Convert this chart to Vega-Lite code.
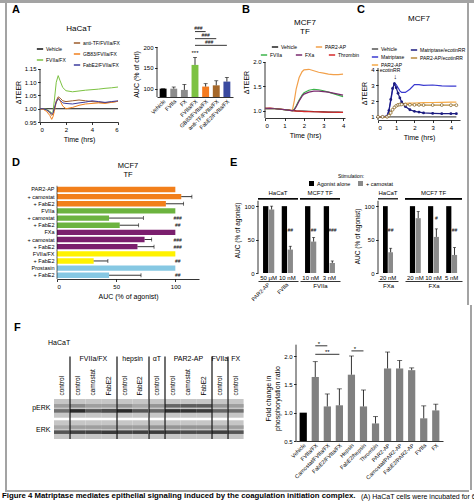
{
  "$schema": "https://vega.github.io/schema/vega-lite/v6.json",
  "background": "white",
  "padding": 0,
  "datasets": {
    "aline": [
      {"s":"Vehicle","t":0,"v":1},{"s":"Vehicle","t":1,"v":1},{"s":"Vehicle","t":2,"v":1},{"s":"Vehicle","t":3,"v":1},{"s":"Vehicle","t":4,"v":1},{"s":"Vehicle","t":5,"v":1},{"s":"Vehicle","t":6,"v":1},
      {"s":"FVIIa/FX","t":0,"v":1.0},{"s":"FVIIa/FX","t":0.25,"v":1.0},{"s":"FVIIa/FX","t":0.5,"v":0.998},{"s":"FVIIa/FX","t":0.75,"v":0.99},{"s":"FVIIa/FX","t":0.9,"v":0.985},{"s":"FVIIa/FX","t":1.0,"v":0.99},{"s":"FVIIa/FX","t":1.1,"v":1.03},{"s":"FVIIa/FX","t":1.25,"v":1.1},{"s":"FVIIa/FX","t":1.4,"v":1.125},{"s":"FVIIa/FX","t":1.55,"v":1.105},{"s":"FVIIa/FX","t":1.75,"v":1.08},{"s":"FVIIa/FX","t":2,"v":1.068},{"s":"FVIIa/FX","t":2.5,"v":1.064},{"s":"FVIIa/FX","t":3,"v":1.067},{"s":"FVIIa/FX","t":3.5,"v":1.07},{"s":"FVIIa/FX","t":4,"v":1.072},{"s":"FVIIa/FX","t":4.5,"v":1.074},{"s":"FVIIa/FX","t":5,"v":1.077},{"s":"FVIIa/FX","t":5.5,"v":1.079},{"s":"FVIIa/FX","t":6,"v":1.082},
      {"s":"anti-TF/FVIIa/FX","t":0,"v":1.0},{"s":"anti-TF/FVIIa/FX","t":0.25,"v":1.0},{"s":"anti-TF/FVIIa/FX","t":0.5,"v":0.995},{"s":"anti-TF/FVIIa/FX","t":0.75,"v":0.985},{"s":"anti-TF/FVIIa/FX","t":0.9,"v":0.975},{"s":"anti-TF/FVIIa/FX","t":1.0,"v":0.98},{"s":"anti-TF/FVIIa/FX","t":1.1,"v":1.0},{"s":"anti-TF/FVIIa/FX","t":1.25,"v":1.03},{"s":"anti-TF/FVIIa/FX","t":1.4,"v":1.045},{"s":"anti-TF/FVIIa/FX","t":1.55,"v":1.04},{"s":"anti-TF/FVIIa/FX","t":1.75,"v":1.03},{"s":"anti-TF/FVIIa/FX","t":2,"v":1.027},{"s":"anti-TF/FVIIa/FX","t":2.5,"v":1.03},{"s":"anti-TF/FVIIa/FX","t":3,"v":1.033},{"s":"anti-TF/FVIIa/FX","t":3.5,"v":1.03},{"s":"anti-TF/FVIIa/FX","t":4,"v":1.027},{"s":"anti-TF/FVIIa/FX","t":4.5,"v":1.025},{"s":"anti-TF/FVIIa/FX","t":5,"v":1.023},{"s":"anti-TF/FVIIa/FX","t":5.5,"v":1.025},{"s":"anti-TF/FVIIa/FX","t":6,"v":1.028},
      {"s":"GB83/FVIIa/FX","t":0,"v":1.0},{"s":"GB83/FVIIa/FX","t":0.25,"v":0.998},{"s":"GB83/FVIIa/FX","t":0.5,"v":0.99},{"s":"GB83/FVIIa/FX","t":0.75,"v":0.975},{"s":"GB83/FVIIa/FX","t":0.9,"v":0.96},{"s":"GB83/FVIIa/FX","t":1.0,"v":0.97},{"s":"GB83/FVIIa/FX","t":1.1,"v":0.99},{"s":"GB83/FVIIa/FX","t":1.25,"v":1.025},{"s":"GB83/FVIIa/FX","t":1.4,"v":1.04},{"s":"GB83/FVIIa/FX","t":1.55,"v":1.03},{"s":"GB83/FVIIa/FX","t":1.75,"v":1.01},{"s":"GB83/FVIIa/FX","t":2,"v":1.0},{"s":"GB83/FVIIa/FX","t":2.5,"v":1.005},{"s":"GB83/FVIIa/FX","t":3,"v":1.013},{"s":"GB83/FVIIa/FX","t":3.5,"v":1.018},{"s":"GB83/FVIIa/FX","t":4,"v":1.02},{"s":"GB83/FVIIa/FX","t":4.5,"v":1.022},{"s":"GB83/FVIIa/FX","t":5,"v":1.02},{"s":"GB83/FVIIa/FX","t":5.5,"v":1.024},{"s":"GB83/FVIIa/FX","t":6,"v":1.028},
      {"s":"FabE2/FVIIa/FX","t":0,"v":1.0},{"s":"FabE2/FVIIa/FX","t":0.25,"v":1.0},{"s":"FabE2/FVIIa/FX","t":0.5,"v":0.996},{"s":"FabE2/FVIIa/FX","t":0.75,"v":0.988},{"s":"FabE2/FVIIa/FX","t":0.9,"v":0.98},{"s":"FabE2/FVIIa/FX","t":1.0,"v":0.985},{"s":"FabE2/FVIIa/FX","t":1.1,"v":1.0},{"s":"FabE2/FVIIa/FX","t":1.25,"v":1.025},{"s":"FabE2/FVIIa/FX","t":1.4,"v":1.038},{"s":"FabE2/FVIIa/FX","t":1.55,"v":1.032},{"s":"FabE2/FVIIa/FX","t":1.75,"v":1.022},{"s":"FabE2/FVIIa/FX","t":2,"v":1.02},{"s":"FabE2/FVIIa/FX","t":2.5,"v":1.018},{"s":"FabE2/FVIIa/FX","t":3,"v":1.022},{"s":"FabE2/FVIIa/FX","t":3.5,"v":1.025},{"s":"FabE2/FVIIa/FX","t":4,"v":1.03},{"s":"FabE2/FVIIa/FX","t":4.5,"v":1.027},{"s":"FabE2/FVIIa/FX","t":5,"v":1.024},{"s":"FabE2/FVIIa/FX","t":5.5,"v":1.027},{"s":"FabE2/FVIIa/FX","t":6,"v":1.03}
    ],
    "abar": [
      {"g":"Vehicle","v":100,"e":100},
      {"g":"FVIIa","v":100,"e":104},
      {"g":"FX","v":97,"e":110},
      {"g":"FVIIa/FX","v":157,"e":175,"sig":"***"},
      {"g":"GB83/FVIIa/FX","v":105,"e":112},
      {"g":"anti-TF/FVIIa/FX","v":108,"e":119},
      {"g":"FabE2/FVIIa/FX","v":117,"e":127}
    ],
    "bline": [
      {"s":"Vehicle","t":0,"v":1.05},{"s":"Vehicle","t":0.25,"v":1.05},{"s":"Vehicle","t":0.5,"v":1.045},{"s":"Vehicle","t":0.75,"v":1.035},{"s":"Vehicle","t":1.0,"v":1.02},{"s":"Vehicle","t":1.25,"v":1.01},{"s":"Vehicle","t":1.4,"v":1.0},{"s":"Vehicle","t":1.5,"v":1.0},{"s":"Vehicle","t":1.6,"v":0.995},{"s":"Vehicle","t":1.75,"v":0.99},{"s":"Vehicle","t":1.9,"v":0.99},{"s":"Vehicle","t":2.0,"v":0.99},{"s":"Vehicle","t":2.25,"v":0.985},{"s":"Vehicle","t":2.5,"v":0.98},{"s":"Vehicle","t":2.75,"v":0.978},{"s":"Vehicle","t":3,"v":0.975},{"s":"Vehicle","t":3.25,"v":0.972},{"s":"Vehicle","t":3.5,"v":0.97},{"s":"Vehicle","t":3.75,"v":0.97},{"s":"Vehicle","t":4,"v":0.968},
      {"s":"Thrombin","t":0,"v":1.05},{"s":"Thrombin","t":0.25,"v":1.052},{"s":"Thrombin","t":0.5,"v":1.045},{"s":"Thrombin","t":0.75,"v":1.035},{"s":"Thrombin","t":1.0,"v":1.025},{"s":"Thrombin","t":1.25,"v":1.01},{"s":"Thrombin","t":1.4,"v":1.0},{"s":"Thrombin","t":1.5,"v":0.995},{"s":"Thrombin","t":1.6,"v":0.99},{"s":"Thrombin","t":1.75,"v":0.99},{"s":"Thrombin","t":1.9,"v":0.985},{"s":"Thrombin","t":2.0,"v":0.982},{"s":"Thrombin","t":2.25,"v":0.98},{"s":"Thrombin","t":2.5,"v":0.978},{"s":"Thrombin","t":2.75,"v":0.975},{"s":"Thrombin","t":3,"v":0.972},{"s":"Thrombin","t":3.25,"v":0.97},{"s":"Thrombin","t":3.5,"v":0.968},{"s":"Thrombin","t":3.75,"v":0.966},{"s":"Thrombin","t":4,"v":0.965},
      {"s":"PAR2-AP","t":0,"v":1.04},{"s":"PAR2-AP","t":0.25,"v":1.045},{"s":"PAR2-AP","t":0.5,"v":1.04},{"s":"PAR2-AP","t":0.75,"v":1.03},{"s":"PAR2-AP","t":1.0,"v":1.02},{"s":"PAR2-AP","t":1.25,"v":1.005},{"s":"PAR2-AP","t":1.4,"v":1.0},{"s":"PAR2-AP","t":1.5,"v":1.2},{"s":"PAR2-AP","t":1.6,"v":1.45},{"s":"PAR2-AP","t":1.75,"v":1.68},{"s":"PAR2-AP","t":1.9,"v":1.8},{"s":"PAR2-AP","t":2.0,"v":1.84},{"s":"PAR2-AP","t":2.25,"v":1.85},{"s":"PAR2-AP","t":2.5,"v":1.82},{"s":"PAR2-AP","t":2.75,"v":1.79},{"s":"PAR2-AP","t":3,"v":1.77},{"s":"PAR2-AP","t":3.25,"v":1.75},{"s":"PAR2-AP","t":3.5,"v":1.74},{"s":"PAR2-AP","t":3.75,"v":1.74},{"s":"PAR2-AP","t":4,"v":1.75},
      {"s":"FVIIa","t":0,"v":1.04},{"s":"FVIIa","t":0.25,"v":1.045},{"s":"FVIIa","t":0.5,"v":1.04},{"s":"FVIIa","t":0.75,"v":1.03},{"s":"FVIIa","t":1.0,"v":1.02},{"s":"FVIIa","t":1.25,"v":1.005},{"s":"FVIIa","t":1.4,"v":1.0},{"s":"FVIIa","t":1.5,"v":1.03},{"s":"FVIIa","t":1.6,"v":1.1},{"s":"FVIIa","t":1.75,"v":1.22},{"s":"FVIIa","t":1.9,"v":1.32},{"s":"FVIIa","t":2.0,"v":1.37},{"s":"FVIIa","t":2.25,"v":1.42},{"s":"FVIIa","t":2.5,"v":1.44},{"s":"FVIIa","t":2.75,"v":1.43},{"s":"FVIIa","t":3,"v":1.41},{"s":"FVIIa","t":3.25,"v":1.38},{"s":"FVIIa","t":3.5,"v":1.35},{"s":"FVIIa","t":3.75,"v":1.32},{"s":"FVIIa","t":4,"v":1.29},
      {"s":"FXa","t":0,"v":1.04},{"s":"FXa","t":0.25,"v":1.045},{"s":"FXa","t":0.5,"v":1.04},{"s":"FXa","t":0.75,"v":1.03},{"s":"FXa","t":1.0,"v":1.02},{"s":"FXa","t":1.25,"v":1.005},{"s":"FXa","t":1.4,"v":1.0},{"s":"FXa","t":1.5,"v":1.02},{"s":"FXa","t":1.6,"v":1.08},{"s":"FXa","t":1.75,"v":1.2},{"s":"FXa","t":1.9,"v":1.3},{"s":"FXa","t":2.0,"v":1.34},{"s":"FXa","t":2.25,"v":1.38},{"s":"FXa","t":2.5,"v":1.4},{"s":"FXa","t":2.75,"v":1.4},{"s":"FXa","t":3,"v":1.39},{"s":"FXa","t":3.25,"v":1.38},{"s":"FXa","t":3.5,"v":1.36},{"s":"FXa","t":3.75,"v":1.34},{"s":"FXa","t":4,"v":1.32}
    ],
    "cline": [
      {"s":"Vehicle","t":0,"v":1},{"s":"Vehicle","t":1,"v":1},{"s":"Vehicle","t":2,"v":1},{"s":"Vehicle","t":3,"v":1},{"s":"Vehicle","t":4,"v":1},{"s":"Vehicle","t":4.3,"v":1},
      {"s":"Matriptase","t":0,"v":1},{"s":"Matriptase","t":0.25,"v":1},{"s":"Matriptase","t":0.5,"v":1.05},{"s":"Matriptase","t":0.6,"v":1.4},{"s":"Matriptase","t":0.7,"v":2.0},{"s":"Matriptase","t":0.8,"v":2.7},{"s":"Matriptase","t":0.9,"v":3.15},{"s":"Matriptase","t":1.0,"v":3.05},{"s":"Matriptase","t":1.1,"v":2.85},{"s":"Matriptase","t":1.2,"v":2.65},{"s":"Matriptase","t":1.3,"v":2.55},{"s":"Matriptase","t":1.5,"v":2.55},{"s":"Matriptase","t":1.75,"v":2.75},{"s":"Matriptase","t":2.0,"v":3.05},{"s":"Matriptase","t":2.25,"v":3.05},{"s":"Matriptase","t":2.5,"v":3.0},{"s":"Matriptase","t":3.0,"v":3.02},{"s":"Matriptase","t":3.5,"v":2.97},{"s":"Matriptase","t":4.0,"v":2.95},{"s":"Matriptase","t":4.3,"v":2.95},
      {"s":"Matriptase/ecotinRR","t":0,"v":1},{"s":"Matriptase/ecotinRR","t":0.25,"v":1},{"s":"Matriptase/ecotinRR","t":0.5,"v":1.05},{"s":"Matriptase/ecotinRR","t":0.6,"v":1.4},{"s":"Matriptase/ecotinRR","t":0.7,"v":2.1},{"s":"Matriptase/ecotinRR","t":0.8,"v":2.8},{"s":"Matriptase/ecotinRR","t":0.9,"v":3.1},{"s":"Matriptase/ecotinRR","t":1.0,"v":2.85},{"s":"Matriptase/ecotinRR","t":1.1,"v":2.5},{"s":"Matriptase/ecotinRR","t":1.2,"v":2.2},{"s":"Matriptase/ecotinRR","t":1.3,"v":1.95},{"s":"Matriptase/ecotinRR","t":1.5,"v":1.65},{"s":"Matriptase/ecotinRR","t":1.75,"v":1.45},{"s":"Matriptase/ecotinRR","t":2.0,"v":1.35},{"s":"Matriptase/ecotinRR","t":2.25,"v":1.3},{"s":"Matriptase/ecotinRR","t":2.5,"v":1.25},{"s":"Matriptase/ecotinRR","t":3.0,"v":1.22},{"s":"Matriptase/ecotinRR","t":3.5,"v":1.2},{"s":"Matriptase/ecotinRR","t":4.0,"v":1.2},{"s":"Matriptase/ecotinRR","t":4.3,"v":1.2},
      {"s":"PAR2-AP","t":0,"v":1},{"s":"PAR2-AP","t":0.25,"v":1},{"s":"PAR2-AP","t":0.5,"v":1.0},{"s":"PAR2-AP","t":0.6,"v":1.08},{"s":"PAR2-AP","t":0.7,"v":1.25},{"s":"PAR2-AP","t":0.8,"v":1.45},{"s":"PAR2-AP","t":0.9,"v":1.62},{"s":"PAR2-AP","t":1.0,"v":1.72},{"s":"PAR2-AP","t":1.1,"v":1.78},{"s":"PAR2-AP","t":1.2,"v":1.8},{"s":"PAR2-AP","t":1.3,"v":1.82},{"s":"PAR2-AP","t":1.5,"v":1.85},{"s":"PAR2-AP","t":1.75,"v":1.87},{"s":"PAR2-AP","t":2.0,"v":1.88},{"s":"PAR2-AP","t":2.25,"v":1.89},{"s":"PAR2-AP","t":2.5,"v":1.9},{"s":"PAR2-AP","t":3.0,"v":1.91},{"s":"PAR2-AP","t":3.5,"v":1.92},{"s":"PAR2-AP","t":4.0,"v":1.93},{"s":"PAR2-AP","t":4.3,"v":1.93},
      {"s":"PAR2-AP/ecotinRR","t":0,"v":1},{"s":"PAR2-AP/ecotinRR","t":0.25,"v":1},{"s":"PAR2-AP/ecotinRR","t":0.5,"v":1.0},{"s":"PAR2-AP/ecotinRR","t":0.6,"v":1.08},{"s":"PAR2-AP/ecotinRR","t":0.7,"v":1.25},{"s":"PAR2-AP/ecotinRR","t":0.8,"v":1.45},{"s":"PAR2-AP/ecotinRR","t":0.9,"v":1.6},{"s":"PAR2-AP/ecotinRR","t":1.0,"v":1.7},{"s":"PAR2-AP/ecotinRR","t":1.1,"v":1.76},{"s":"PAR2-AP/ecotinRR","t":1.2,"v":1.78},{"s":"PAR2-AP/ecotinRR","t":1.3,"v":1.79},{"s":"PAR2-AP/ecotinRR","t":1.5,"v":1.78},{"s":"PAR2-AP/ecotinRR","t":1.75,"v":1.77},{"s":"PAR2-AP/ecotinRR","t":2.0,"v":1.76},{"s":"PAR2-AP/ecotinRR","t":2.25,"v":1.76},{"s":"PAR2-AP/ecotinRR","t":2.5,"v":1.75},{"s":"PAR2-AP/ecotinRR","t":3.0,"v":1.75},{"s":"PAR2-AP/ecotinRR","t":3.5,"v":1.75},{"s":"PAR2-AP/ecotinRR","t":4.0,"v":1.74},{"s":"PAR2-AP/ecotinRR","t":4.3,"v":1.74}
    ],
    "dbar": [
      {"k":"01 PAR2-AP","grp":"PAR2-AP","v":100},
      {"k":"02 + camostat","grp":"PAR2-AP","v":105,"e":114},
      {"k":"03 + FabE2","grp":"PAR2-AP","v":92,"e":107},
      {"k":"04 FVIIa","grp":"FVIIa","v":100},
      {"k":"05 + camostat","grp":"FVIIa","v":44,"e":73,"sig":"###"},
      {"k":"06 + FabE2","grp":"FVIIa","v":53,"e":69,"sig":"##"},
      {"k":"07 FXa","grp":"FXa","v":100},
      {"k":"08 + camostat","grp":"FXa","v":74,"e":80,"sig":"###"},
      {"k":"09 + FabE2","grp":"FXa","v":68,"e":82,"sig":"###"},
      {"k":"10 FVIIa/FX","grp":"FVIIa/FX","v":100},
      {"k":"11 + FabE2","grp":"FVIIa/FX","v":31,"e":43,"sig":"##"},
      {"k":"12 Prostasin","grp":"Prostasin","v":100},
      {"k":"13 + FabE2","grp":"Prostasin","v":44,"e":71,"sig":"##"}
    ],
    "edata": [
      {"p":"L","cell":"HaCaT","conc":"50 µM","ag":"PAR2-AP","stim":"Agonist alone","v":100},
      {"p":"L","cell":"HaCaT","conc":"50 µM","ag":"PAR2-AP","stim":"+ camostat","v":95,"e":100},
      {"p":"L","cell":"HaCaT","conc":"10 nM","ag":"FVIIa","stim":"Agonist alone","v":100},
      {"p":"L","cell":"HaCaT","conc":"10 nM","ag":"FVIIa","stim":"+ camostat","v":35,"e":40,"sig":"##"},
      {"p":"L","cell":"MCF7 TF","conc":"10 nM","ag":"FVIIa","stim":"Agonist alone","v":100},
      {"p":"L","cell":"MCF7 TF","conc":"10 nM","ag":"FVIIa","stim":"+ camostat","v":47,"e":53,"sig":"##"},
      {"p":"L","cell":"MCF7 TF","conc":"3 nM","ag":"FVIIa","stim":"Agonist alone","v":100},
      {"p":"L","cell":"MCF7 TF","conc":"3 nM","ag":"FVIIa","stim":"+ camostat","v":15,"e":18,"sig":"###"},
      {"p":"R","cell":"HaCaT","conc":"20 nM","ag":"FXa","stim":"Agonist alone","v":100},
      {"p":"R","cell":"HaCaT","conc":"20 nM","ag":"FXa","stim":"+ camostat","v":31,"e":37,"sig":"##"},
      {"p":"R","cell":"MCF7 TF","conc":"20 nM","ag":"FXa","stim":"Agonist alone","v":100},
      {"p":"R","cell":"MCF7 TF","conc":"20 nM","ag":"FXa","stim":"+ camostat","v":82,"e":92},
      {"p":"R","cell":"MCF7 TF","conc":"10 nM","ag":"FXa","stim":"Agonist alone","v":100},
      {"p":"R","cell":"MCF7 TF","conc":"10 nM","ag":"FXa","stim":"+ camostat","v":54,"e":66,"sig":"#"},
      {"p":"R","cell":"MCF7 TF","conc":"5 nM","ag":"FXa","stim":"Agonist alone","v":100},
      {"p":"R","cell":"MCF7 TF","conc":"5 nM","ag":"FXa","stim":"+ camostat","v":27,"e":38,"sig":"##"}
    ],
    "blot": [
      {"ln":"01 control","lab":"control","grp":"none","pr":"pERK","iso":"p44","i":0.2},{"ln":"01 control","lab":"control","grp":"none","pr":"pERK","iso":"p42","i":0.45},{"ln":"01 control","lab":"control","grp":"none","pr":"ERK","iso":"p44","i":0.15},{"ln":"01 control","lab":"control","grp":"none","pr":"ERK","iso":"p42","i":0.6},
      {"ln":"02 control","lab":"control","grp":"FVIIa/FX","pr":"pERK","iso":"p44","i":0.3},{"ln":"02 control","lab":"control","grp":"FVIIa/FX","pr":"pERK","iso":"p42","i":0.85},{"ln":"02 control","lab":"control","grp":"FVIIa/FX","pr":"ERK","iso":"p44","i":0.2},{"ln":"02 control","lab":"control","grp":"FVIIa/FX","pr":"ERK","iso":"p42","i":0.7},
      {"ln":"03 camostat","lab":"camostat","grp":"FVIIa/FX","pr":"pERK","iso":"p44","i":0.2},{"ln":"03 camostat","lab":"camostat","grp":"FVIIa/FX","pr":"pERK","iso":"p42","i":0.6},{"ln":"03 camostat","lab":"camostat","grp":"FVIIa/FX","pr":"ERK","iso":"p44","i":0.2},{"ln":"03 camostat","lab":"camostat","grp":"FVIIa/FX","pr":"ERK","iso":"p42","i":0.7},
      {"ln":"04 FabE2","lab":"FabE2","grp":"FVIIa/FX","pr":"pERK","iso":"p44","i":0.2},{"ln":"04 FabE2","lab":"FabE2","grp":"FVIIa/FX","pr":"pERK","iso":"p42","i":0.65},{"ln":"04 FabE2","lab":"FabE2","grp":"FVIIa/FX","pr":"ERK","iso":"p44","i":0.2},{"ln":"04 FabE2","lab":"FabE2","grp":"FVIIa/FX","pr":"ERK","iso":"p42","i":0.75},
      {"ln":"05 control","lab":"control","grp":"hepsin","pr":"pERK","iso":"p44","i":0.25},{"ln":"05 control","lab":"control","grp":"hepsin","pr":"pERK","iso":"p42","i":0.85},{"ln":"05 control","lab":"control","grp":"hepsin","pr":"ERK","iso":"p44","i":0.2},{"ln":"05 control","lab":"control","grp":"hepsin","pr":"ERK","iso":"p42","i":0.7},
      {"ln":"06 FabE2","lab":"FabE2","grp":"hepsin","pr":"pERK","iso":"p44","i":0.15},{"ln":"06 FabE2","lab":"FabE2","grp":"hepsin","pr":"pERK","iso":"p42","i":0.6},{"ln":"06 FabE2","lab":"FabE2","grp":"hepsin","pr":"ERK","iso":"p44","i":0.2},{"ln":"06 FabE2","lab":"FabE2","grp":"hepsin","pr":"ERK","iso":"p42","i":0.72},
      {"ln":"07 control","lab":"control","grp":"αT","pr":"pERK","iso":"p44","i":0.25},{"ln":"07 control","lab":"control","grp":"αT","pr":"pERK","iso":"p42","i":0.5},{"ln":"07 control","lab":"control","grp":"αT","pr":"ERK","iso":"p44","i":0.25},{"ln":"07 control","lab":"control","grp":"αT","pr":"ERK","iso":"p42","i":0.75},
      {"ln":"08 control","lab":"control","grp":"PAR2-AP","pr":"pERK","iso":"p44","i":0.5},{"ln":"08 control","lab":"control","grp":"PAR2-AP","pr":"pERK","iso":"p42","i":0.8},{"ln":"08 control","lab":"control","grp":"PAR2-AP","pr":"ERK","iso":"p44","i":0.25},{"ln":"08 control","lab":"control","grp":"PAR2-AP","pr":"ERK","iso":"p42","i":0.7},
      {"ln":"09 camostat","lab":"camostat","grp":"PAR2-AP","pr":"pERK","iso":"p44","i":0.55},{"ln":"09 camostat","lab":"camostat","grp":"PAR2-AP","pr":"pERK","iso":"p42","i":0.8},{"ln":"09 camostat","lab":"camostat","grp":"PAR2-AP","pr":"ERK","iso":"p44","i":0.25},{"ln":"09 camostat","lab":"camostat","grp":"PAR2-AP","pr":"ERK","iso":"p42","i":0.65},
      {"ln":"10 FabE2","lab":"FabE2","grp":"PAR2-AP","pr":"pERK","iso":"p44","i":0.55},{"ln":"10 FabE2","lab":"FabE2","grp":"PAR2-AP","pr":"pERK","iso":"p42","i":0.75},{"ln":"10 FabE2","lab":"FabE2","grp":"PAR2-AP","pr":"ERK","iso":"p44","i":0.25},{"ln":"10 FabE2","lab":"FabE2","grp":"PAR2-AP","pr":"ERK","iso":"p42","i":0.65},
      {"ln":"11 control","lab":"control","grp":"FVIIa","pr":"pERK","iso":"p44","i":0.25},{"ln":"11 control","lab":"control","grp":"FVIIa","pr":"pERK","iso":"p42","i":0.5},{"ln":"11 control","lab":"control","grp":"FVIIa","pr":"ERK","iso":"p44","i":0.2},{"ln":"11 control","lab":"control","grp":"FVIIa","pr":"ERK","iso":"p42","i":0.72},
      {"ln":"12 control","lab":"control","grp":"FX","pr":"pERK","iso":"p44","i":0.2},{"ln":"12 control","lab":"control","grp":"FX","pr":"pERK","iso":"p42","i":0.45},{"ln":"12 control","lab":"control","grp":"FX","pr":"ERK","iso":"p44","i":0.2},{"ln":"12 control","lab":"control","grp":"FX","pr":"ERK","iso":"p42","i":0.6}
    ],
    "fbar": [
      {"g":"Vehicle","v":1.0},
      {"g":"FVIIa/FX","v":1.63,"e":1.9},
      {"g":"Camostat/FVIIa/FX","v":1.11,"e":1.33},
      {"g":"FabE2/FVIIa/FX","v":1.13,"e":1.42},
      {"g":"Hepsin","v":1.67,"e":2.0},
      {"g":"FabE2/hepsin","v":1.11,"e":1.4},
      {"g":"Thrombin","v":0.81,"e":0.93},
      {"g":"PAR2-AP","v":1.78,"e":2.07},
      {"g":"Camostat/PAR2-AP","v":1.78,"e":1.92},
      {"g":"FabE2/PAR2-AP","v":1.75,"e":1.79},
      {"g":"FVIIa","v":0.9,"e":1.12},
      {"g":"FX","v":1.04,"e":1.15}
    ]
  },
  "columns": 1,
  "align": "none",
  "spacing": 0,
  "resolve": {"scale": {"color": "independent", "stroke": "independent", "fill": "independent", "xOffset": "independent", "yOffset": "independent"}},
  "concat": [
    {
      "columns": 1, "bounds": "flush", "align": "none", "spacing": 0,
      "concat": [
        {"width": 474, "height": 3, "view": {"fill": "#a3a3a3"}, "data": {"values": []}, "mark": "point"}
      ]
    },
    {
      "columns": 13, "bounds": "flush", "align": "none", "spacing": 0,
      "resolve": {"scale": {"color": "independent", "stroke": "independent", "fill": "independent", "xOffset": "independent", "yOffset": "independent"}},
      "concat": [
        {"width": 5, "height": 147, "data": {"values": []}, "mark": "point"},
        {"width": 2, "height": 147, "view": {"fill": "#a3a3a3"}, "data": {"values": []}, "mark": "point"},
        {"width": 33, "height": 147, "title": {"text": "A", "anchor": "start", "frame": "group", "dx": 5, "offset": -12, "fontSize": 11, "fontWeight": "bold"}, "data": {"values": []}, "mark": "point"},
        {
          "width": 78, "height": 119,
          "title": {"text": "HaCaT", "fontSize": 8, "frame": "group", "anchor": "middle", "offset": -30},
          "resolve": {"scale": {"x": "independent"}, "axis": {"x": "independent"}},
          "layer": [
            {
              "data": {"values": [{}]},
              "mark": {"type": "rule", "strokeWidth": 0.8},
              "encoding": {"x": {"datum": 0, "type": "quantitative", "scale": {"domain": [0, 1]}, "axis": null}, "y": {"datum": 0.95, "type": "quantitative"}, "y2": {"datum": 1.15}}
            },
            {
              "data": {"name": "aline"},
              "layer": [
                {
                  "transform": [{"filter": "datum.s == 'Vehicle' || datum.s == 'FVIIa/FX'"}],
                  "mark": {"type": "line", "strokeWidth": 1},
                  "encoding": {
                    "x": {"field": "t", "type": "quantitative", "scale": {"domain": [0, 6], "nice": false}, "axis": {"values": [0, 2, 4, 6], "tickCount": 20, "format": "d", "title": "Time (hrs)", "labelOverlap": false}},
                    "y": {"field": "v", "type": "quantitative", "scale": {"domain": [0.95, 1.399], "nice": false, "zero": false}, "axis": {"values": [0.95, 1, 1.05, 1.1, 1.15], "tickCount": 20, "format": ".2f", "title": "ΔTEER", "domain": false, "titleY": 89, "labelOverlap": false}},
                    "color": {"field": "s", "type": "nominal", "scale": {"domain": ["Vehicle", "FVIIa/FX"], "range": ["#111111", "#7cc242"]}, "legend": {"orient": "none", "legendX": -4, "legendY": 42, "direction": "vertical", "title": null, "symbolType": "stroke", "labelFontSize": 5, "rowPadding": 4}}
                  }
                },
                {
                  "transform": [{"filter": "datum.s != 'Vehicle' && datum.s != 'FVIIa/FX'"}],
                  "mark": {"type": "line", "strokeWidth": 1},
                  "encoding": {
                    "x": {"field": "t", "type": "quantitative", "axis": {"values": [0, 2, 4, 6], "tickCount": 20, "format": "d"}},
                    "y": {"field": "v", "type": "quantitative", "axis": {"values": [0.95, 1, 1.05, 1.1, 1.15], "tickCount": 20, "format": ".2f"}},
                    "stroke": {"field": "s", "type": "nominal", "scale": {"domain": ["anti-TF/FVIIa/FX", "GB83/FVIIa/FX", "FabE2/FVIIa/FX"], "range": ["#9c5b2a", "#f0801e", "#3d3d9e"]}, "legend": {"orient": "none", "legendX": 33, "legendY": 36, "direction": "vertical", "title": null, "symbolType": "stroke", "labelFontSize": 5, "rowPadding": 4}}
                  }
                }
              ]
            }
          ]
        },
        {"width": 39, "height": 147, "data": {"values": []}, "mark": "point"},
        {
          "width": 76, "height": 94,
          "resolve": {"scale": {"x": "independent"}, "axis": {"x": "independent"}},
          "layer": [
            {
              "data": {"values": [{}]},
              "mark": {"type": "rule", "strokeWidth": 0.8},
              "encoding": {"x": {"datum": 0, "type": "quantitative", "scale": {"domain": [0, 1]}, "axis": null}, "y": {"datum": 80, "type": "quantitative"}, "y2": {"datum": 200}}
            },
            {
              "layer": [
                {
                  "data": {"name": "abar"},
                  "mark": {"type": "bar"},
                  "encoding": {
                    "x": {"field": "g", "type": "nominal", "scale": {"domain": ["Vehicle", "FVIIa", "FX", "FVIIa/FX", "GB83/FVIIa/FX", "anti-TF/FVIIa/FX", "FabE2/FVIIa/FX"], "paddingInner": 0.35, "paddingOuter": 0.25}, "axis": {"title": null, "labelAngle": -45, "ticks": false, "labelFontSize": 5.5}},
                    "y": {"field": "v", "type": "quantitative", "scale": {"domain": [80, 305.6], "nice": false, "zero": false}, "axis": {"values": [100, 150, 200], "tickCount": 20, "format": "d", "title": "AUC (% of ctrl)", "domain": false, "titleY": 71, "labelOverlap": false}},
                    "y2": {"datum": 80},
                    "color": {"field": "g", "type": "nominal", "scale": {"domain": ["Vehicle", "FVIIa", "FX", "FVIIa/FX", "GB83/FVIIa/FX", "anti-TF/FVIIa/FX", "FabE2/FVIIa/FX"], "range": ["#000000", "#8c8c8c", "#8c8c8c", "#7cc242", "#f47b20", "#a5682a", "#3a4aa0"]}, "legend": null}
                  }
                },
                {
                  "data": {"name": "abar"},
                  "mark": {"type": "rule", "strokeWidth": 0.8},
                  "encoding": {"x": {"field": "g", "type": "nominal"}, "y": {"field": "v", "type": "quantitative"}, "y2": {"field": "e"}}
                },
                {
                  "data": {"name": "abar"},
                  "mark": {"type": "tick", "thickness": 0.8, "size": 4, "color": "#000"},
                  "encoding": {"x": {"field": "g", "type": "nominal"}, "y": {"field": "e", "type": "quantitative"}}
                },
                {
                  "data": {"name": "abar"},
                  "transform": [{"filter": "datum.sig"}],
                  "mark": {"type": "text", "fontSize": 6, "baseline": "bottom", "dy": -1},
                  "encoding": {"x": {"field": "g", "type": "nominal"}, "y": {"field": "e", "type": "quantitative"}, "text": {"field": "sig"}}
                },
                {
                  "data": {"values": [{"a": "FVIIa/FX", "b": "GB83/FVIIa/FX", "y": 237}, {"a": "FVIIa/FX", "b": "anti-TF/FVIIa/FX", "y": 220}, {"a": "FVIIa/FX", "b": "FabE2/FVIIa/FX", "y": 204}]},
                  "mark": {"type": "rule", "strokeWidth": 0.8},
                  "encoding": {"x": {"field": "a", "type": "nominal"}, "x2": {"field": "b"}, "y": {"field": "y", "type": "quantitative"}}
                },
                {
                  "data": {"values": [{"m": "FVIIa/FX", "y": 237, "lab": "###"}, {"m": "GB83/FVIIa/FX", "y": 204, "lab": "###"}]},
                  "mark": {"type": "text", "fontSize": 5, "baseline": "bottom", "dy": -0.5},
                  "encoding": {"x": {"field": "m", "type": "nominal", "bandPosition": 1}, "y": {"field": "y", "type": "quantitative"}, "text": {"field": "lab"}}
                },
                {
                  "data": {"values": [{"m": "GB83/FVIIa/FX", "y": 220, "lab": "###"}]},
                  "mark": {"type": "text", "fontSize": 5, "baseline": "bottom", "dy": -0.5},
                  "encoding": {"x": {"field": "m", "type": "nominal"}, "y": {"field": "y", "type": "quantitative"}, "text": {"field": "lab"}}
                }
              ]
            }
          ]
        },
        {"width": 32, "height": 147, "title": {"text": "B", "anchor": "start", "frame": "group", "dx": 9, "offset": -12, "fontSize": 11, "fontWeight": "bold"}, "data": {"values": []}, "mark": "point"},
        {
          "width": 80, "height": 115,
          "title": {"text": ["MCF7", "TF"], "fontSize": 8, "lineHeight": 9, "frame": "group", "anchor": "middle", "offset": -33},
          "resolve": {"scale": {"x": "independent"}, "axis": {"x": "independent"}},
          "layer": [
            {
              "data": {"values": [{}]},
              "mark": {"type": "rule", "strokeWidth": 0.8},
              "encoding": {"x": {"datum": 0, "type": "quantitative", "scale": {"domain": [0, 1]}, "axis": null}, "y": {"datum": 0.85, "type": "quantitative"}, "y2": {"datum": 2.0}}
            },
            {
              "data": {"name": "bline"},
              "layer": [
                {
                  "transform": [{"filter": "datum.s == 'Vehicle' || datum.s == 'PAR2-AP'"}],
                  "mark": {"type": "line", "strokeWidth": 1.2},
                  "encoding": {
                    "x": {"field": "t", "type": "quantitative", "scale": {"domain": [0, 4.1], "nice": false}, "axis": {"values": [0, 1, 2, 3, 4], "tickCount": 20, "format": "d", "title": "Time (hrs)", "labelOverlap": false}},
                    "y": {"field": "v", "type": "quantitative", "scale": {"domain": [0.85, 3.211], "nice": false, "zero": false}, "axis": {"values": [1.0, 1.5, 2.0], "tickCount": 20, "format": ".1f", "title": "ΔTEER", "domain": false, "titleY": 79, "labelOverlap": false}},
                    "color": {"field": "s", "type": "nominal", "scale": {"domain": ["Vehicle", "PAR2-AP"], "range": ["#222222", "#f2a04a"]}, "legend": {"orient": "none", "legendX": 6, "legendY": 40, "direction": "horizontal", "title": null, "symbolType": "stroke", "labelFontSize": 5, "columnPadding": 14}}
                  }
                },
                {
                  "transform": [{"filter": "datum.s != 'Vehicle' && datum.s != 'PAR2-AP'"}],
                  "mark": {"type": "line", "strokeWidth": 1.2},
                  "encoding": {
                    "x": {"field": "t", "type": "quantitative", "axis": {"values": [0, 1, 2, 3, 4], "tickCount": 20, "format": "d"}},
                    "y": {"field": "v", "type": "quantitative", "axis": {"values": [1.0, 1.5, 2.0], "tickCount": 20, "format": ".1f"}},
                    "stroke": {"field": "s", "type": "nominal", "scale": {"domain": ["FVIIa", "FXa", "Thrombin"], "range": ["#3cb44b", "#7a2a6e", "#d62a2a"]}, "legend": {"orient": "none", "legendX": -5, "legendY": 48, "direction": "horizontal", "title": null, "symbolType": "stroke", "labelFontSize": 5, "columnPadding": 10}}
                  }
                }
              ]
            }
          ]
        },
        {"width": 33, "height": 147, "title": {"text": "C", "anchor": "start", "frame": "group", "dx": 12, "offset": -12, "fontSize": 11, "fontWeight": "bold"}, "data": {"values": []}, "mark": "point"},
        {
          "width": 82, "height": 117,
          "title": {"text": "MCF7", "fontSize": 8, "frame": "group", "anchor": "middle", "offset": -20},
          "resolve": {"scale": {"x": "independent"}, "axis": {"x": "independent"}},
          "layer": [
            {
              "data": {"values": [{}]},
              "mark": {"type": "rule", "strokeWidth": 0.8},
              "encoding": {"x": {"datum": 0, "type": "quantitative", "scale": {"domain": [0, 1]}, "axis": null}, "y": {"datum": 0.8, "type": "quantitative"}, "y2": {"datum": 4.1}}
            },
            {
              "layer": [
                {
                  "data": {"name": "cline"},
                  "transform": [{"filter": "datum.s == 'Vehicle' || datum.s == 'Matriptase' || datum.s == 'PAR2-AP'"}],
                  "mark": {"type": "line", "strokeWidth": 1.2},
                  "encoding": {
                    "x": {"field": "t", "type": "quantitative", "scale": {"domain": [0, 4.5], "nice": false}, "axis": {"values": [0, 1, 2, 3, 4], "tickCount": 20, "format": "d", "title": "Time (hrs)", "labelOverlap": false}},
                    "y": {"field": "v", "type": "quantitative", "scale": {"domain": [0.8, 8.225], "nice": false, "zero": false}, "axis": {"values": [1, 2, 3, 4], "tickCount": 20, "format": "d", "title": "ΔTEER", "domain": false, "titleY": 90, "labelOverlap": false}},
                    "color": {"field": "s", "type": "nominal", "scale": {"domain": ["Vehicle", "Matriptase", "PAR2-AP"], "range": ["#555555", "#3a3ad0", "#f5a947"]}, "legend": {"orient": "none", "legendX": -7, "legendY": 42, "direction": "vertical", "title": null, "symbolType": "stroke", "labelFontSize": 5, "rowPadding": 1}}
                  }
                },
                {
                  "data": {"name": "cline"},
                  "transform": [{"filter": "datum.s == 'Matriptase/ecotinRR' || datum.s == 'PAR2-AP/ecotinRR'"}],
                  "mark": {"type": "line", "strokeWidth": 1.2},
                  "encoding": {
                    "x": {"field": "t", "type": "quantitative", "axis": {"values": [0, 1, 2, 3, 4], "tickCount": 20, "format": "d"}},
                    "y": {"field": "v", "type": "quantitative", "axis": {"values": [1, 2, 3, 4], "tickCount": 20, "format": "d"}},
                    "stroke": {"field": "s", "type": "nominal", "scale": {"domain": ["Matriptase/ecotinRR", "PAR2-AP/ecotinRR"], "range": ["#1c1c80", "#b88a3c"]}, "legend": {"orient": "none", "legendX": 32, "legendY": 43, "direction": "vertical", "title": null, "symbolType": "stroke", "labelFontSize": 5, "rowPadding": 1}}
                  }
                },
                {
                  "data": {"name": "cline"},
                  "transform": [{"filter": "datum.s == 'Matriptase/ecotinRR'"}],
                  "mark": {"type": "point", "filled": true, "size": 8, "color": "#1c1c80", "opacity": 1},
                  "encoding": {"x": {"field": "t", "type": "quantitative", "axis": {"values": [0, 1, 2, 3, 4], "tickCount": 20, "format": "d"}}, "y": {"field": "v", "type": "quantitative", "axis": {"values": [1, 2, 3, 4], "tickCount": 20, "format": "d"}}}
                },
                {
                  "data": {"name": "cline"},
                  "transform": [{"filter": "datum.s == 'PAR2-AP/ecotinRR'"}],
                  "mark": {"type": "point", "filled": false, "size": 8, "color": "#8a6a2c", "fill": "white", "strokeWidth": 0.8, "opacity": 1},
                  "encoding": {"x": {"field": "t", "type": "quantitative", "axis": {"values": [0, 1, 2, 3, 4], "tickCount": 20, "format": "d"}}, "y": {"field": "v", "type": "quantitative", "axis": {"values": [1, 2, 3, 4], "tickCount": 20, "format": "d"}}}
                },
                {
                  "data": {"values": [{"t": 0.66, "v": 3.97, "lab": "ecotinRR"}]},
                  "mark": {"type": "text", "fontSize": 5, "baseline": "middle"},
                  "encoding": {"x": {"field": "t", "type": "quantitative", "axis": {"values": [0, 1, 2, 3, 4], "tickCount": 20, "format": "d"}}, "y": {"field": "v", "type": "quantitative", "axis": {"values": [1, 2, 3, 4], "tickCount": 20, "format": "d"}}, "text": {"field": "lab"}}
                },
                {
                  "data": {"values": [{"t": 0.95, "v": 3.55, "lab": "↓"}]},
                  "mark": {"type": "text", "fontSize": 7, "fontWeight": "bold", "baseline": "middle"},
                  "encoding": {"x": {"field": "t", "type": "quantitative", "axis": {"values": [0, 1, 2, 3, 4], "tickCount": 20, "format": "d"}}, "y": {"field": "v", "type": "quantitative", "axis": {"values": [1, 2, 3, 4], "tickCount": 20, "format": "d"}}, "text": {"field": "lab"}}
                }
              ]
            }
          ]
        },
        {"width": 7, "height": 147, "data": {"values": []}, "mark": "point"},
        {"width": 2, "height": 147, "view": {"fill": "#a3a3a3"}, "data": {"values": []}, "mark": "point"},
        {"width": 5, "height": 147, "data": {"values": []}, "mark": "point"}
      ]
    },
    {
      "columns": 15, "bounds": "flush", "align": "none", "spacing": 0,
      "resolve": {"scale": {"color": "independent", "stroke": "independent", "fill": "independent", "xOffset": "independent", "yOffset": "independent"}},
      "concat": [
        {"width": 5, "height": 155, "data": {"values": []}, "mark": "point"},
        {"width": 2, "height": 155, "view": {"fill": "#a3a3a3"}, "data": {"values": []}, "mark": "point"},
        {"width": 50, "height": 155, "title": {"text": "D", "anchor": "start", "frame": "group", "dx": 5, "offset": -18, "fontSize": 11, "fontWeight": "bold"}, "data": {"values": []}, "mark": "point"},
        {
          "width": 142, "height": 129,
          "title": {"text": ["MCF7", "TF"], "fontSize": 7.5, "lineHeight": 8.5, "frame": "group", "anchor": "middle", "offset": -28},
          "data": {"name": "dbar"},
          "encoding": {"y": {"field": "k", "type": "nominal", "scale": {"domain": ["d1", "d2", "d3", "d4", "d5", "01 PAR2-AP", "02 + camostat", "03 + FabE2", "04 FVIIa", "05 + camostat", "06 + FabE2", "07 FXa", "08 + camostat", "09 + FabE2", "10 FVIIa/FX", "11 + FabE2", "12 Prostasin", "13 + FabE2"], "paddingInner": 0.25, "paddingOuter": 0.15}, "axis": {"title": null, "labelExpr": "substring(datum.label, 3)", "labelFontSize": 5.5, "domain": false, "ticks": false, "labelPadding": 3}}},
          "layer": [
            {
              "mark": {"type": "bar"},
              "encoding": {
                "x": {"field": "v", "type": "quantitative", "scale": {"domain": [0, 120], "nice": false}, "axis": {"values": [0, 50, 100], "tickCount": 20, "format": "d", "title": "AUC (% of agonist)", "labelOverlap": false}},
                "color": {"field": "grp", "type": "nominal", "scale": {"domain": ["PAR2-AP", "FVIIa", "FXa", "FVIIa/FX", "Prostasin"], "range": ["#f27f1b", "#6cb33f", "#7b1f6e", "#fff200", "#86c8e3"]}, "legend": null}
              }
            },
            {
              "mark": {"type": "tick", "thickness": 0.8, "size": 7.4, "color": "#000"},
              "encoding": {"x": {"datum": 0, "type": "quantitative"}}
            },
            {
              "transform": [{"filter": "datum.e"}],
              "mark": {"type": "rule", "strokeWidth": 0.8},
              "encoding": {"x": {"field": "v", "type": "quantitative"}, "x2": {"field": "e"}}
            },
            {
              "transform": [{"filter": "datum.e"}],
              "mark": {"type": "tick", "thickness": 0.8, "size": 4, "color": "#000"},
              "encoding": {"x": {"field": "e", "type": "quantitative"}}
            },
            {
              "transform": [{"filter": "datum.sig"}],
              "mark": {"type": "text", "fontSize": 5},
              "encoding": {"x": {"datum": 102}, "text": {"field": "sig"}}
            }
          ]
        },
        {"width": 59, "height": 155, "title": {"text": "E", "anchor": "start", "frame": "group", "dx": 31, "offset": -18, "fontSize": 11, "fontWeight": "bold"}, "data": {"values": []}, "mark": "point"},
        {
          "width": 40, "height": 123,
          "title": {"text": "HaCaT", "fontSize": 6, "frame": "group", "anchor": "middle", "offset": -46},
          "resolve": {"scale": {"x": "independent"}, "axis": {"x": "independent"}},
          "layer": [
            {
              "data": {"values": [{}]},
              "mark": {"type": "rule", "strokeWidth": 0.8},
              "encoding": {"x": {"datum": 0, "type": "quantitative", "scale": {"domain": [0, 1]}, "axis": null}, "y": {"datum": 0, "type": "quantitative"}, "y2": {"datum": 108}}
            },
            {
              "data": {"name": "edata"},
              "transform": [{"filter": "datum.p == 'L' && datum.cell == 'HaCaT'"}],
              "layer": [
                {
                  "mark": {"type": "bar"},
                  "encoding": {
                    "x": {"field": "conc", "type": "nominal", "sort": null, "scale": {"paddingInner": 0.4, "paddingOuter": 0.27}, "axis": {"title": null, "labelAngle": 0, "ticks": false, "offset": 8, "labelPadding": -7, "zindex": 1}},
                    "xOffset": {"field": "stim", "type": "nominal", "sort": ["Agonist alone", "+ camostat"], "scale": {"paddingInner": 0.1}},
                    "y": {"field": "v", "type": "quantitative", "scale": {"domain": [0, 184], "nice": false}, "axis": {"values": [0, 50, 100], "tickCount": 20, "format": "d", "title": "AUC (% of agonist)", "titleFontSize": 6.5, "domain": false, "titleY": 80, "labelOverlap": false}},
                    "color": {"field": "stim", "type": "nominal", "scale": {"domain": ["Agonist alone", "+ camostat"], "range": ["#000000", "#8a8a8a"]}, "legend": {"orient": "none", "legendX": 50, "legendY": 24, "direction": "horizontal", "title": "Stimulation:", "titleFontSize": 5, "titleFontWeight": "normal", "titleAnchor": "middle", "titlePadding": 1, "labelFontSize": 5.5, "symbolType": "square", "symbolSize": 25, "columnPadding": 6}}
                  }
                },
                {
                  "transform": [{"filter": "datum.e"}],
                  "mark": {"type": "rule", "strokeWidth": 0.8},
                  "encoding": {"x": {"field": "conc", "type": "nominal", "sort": null}, "xOffset": {"field": "stim", "type": "nominal", "sort": ["Agonist alone", "+ camostat"]}, "y": {"field": "v", "type": "quantitative"}, "y2": {"field": "e"}}
                },
                {
                  "transform": [{"filter": "datum.e"}],
                  "mark": {"type": "tick", "thickness": 0.8, "size": 3, "color": "#000"},
                  "encoding": {"x": {"field": "conc", "type": "nominal", "sort": null}, "xOffset": {"field": "stim", "type": "nominal", "sort": ["Agonist alone", "+ camostat"]}, "y": {"field": "e", "type": "quantitative"}}
                },
                {
                  "transform": [{"filter": "datum.sig"}],
                  "mark": {"type": "text", "fontSize": 5},
                  "encoding": {"x": {"field": "conc", "type": "nominal", "sort": null}, "xOffset": {"field": "stim", "type": "nominal", "sort": ["Agonist alone", "+ camostat"]}, "y": {"datum": 64}, "text": {"field": "sig"}}
                },
                {
                  "mark": {"type": "rule", "strokeWidth": 0.8},
                  "encoding": {"y": {"datum": 111}}
                },
                {
                  "transform": [{"filter": "datum.stim == 'Agonist alone'"}],
                  "mark": {"type": "text", "angle": 315, "align": "right", "baseline": "middle", "fontSize": 5.5},
                  "encoding": {"x": {"field": "conc", "type": "nominal", "sort": null}, "y": {"datum": -16}, "text": {"field": "ag"}}
                }
              ]
            }
          ]
        },
        {"width": 2, "height": 155, "data": {"values": []}, "mark": "point"},
        {
          "width": 40, "height": 123,
          "title": {"text": "MCF7 TF", "fontSize": 6, "frame": "group", "anchor": "middle", "offset": -46},
          "data": {"name": "edata"},
          "transform": [{"filter": "datum.p == 'L' && datum.cell == 'MCF7 TF'"}],
          "layer": [
            {
              "mark": {"type": "bar"},
              "encoding": {
                "x": {"field": "conc", "type": "nominal", "sort": null, "scale": {"paddingInner": 0.4, "paddingOuter": 0.27}, "axis": {"title": "FVIIa", "titleFontSize": 6, "titlePadding": 1, "labelAngle": 0, "ticks": false, "offset": 8, "labelPadding": -7, "zindex": 1}},
                "xOffset": {"field": "stim", "type": "nominal", "sort": ["Agonist alone", "+ camostat"], "scale": {"paddingInner": 0.1}},
                "y": {"field": "v", "type": "quantitative", "scale": {"domain": [0, 184], "nice": false}, "axis": null},
                "color": {"field": "stim", "type": "nominal", "scale": {"domain": ["Agonist alone", "+ camostat"], "range": ["#000000", "#8a8a8a"]}, "legend": null}
              }
            },
            {
              "transform": [{"filter": "datum.e"}],
              "mark": {"type": "rule", "strokeWidth": 0.8},
              "encoding": {"x": {"field": "conc", "type": "nominal", "sort": null}, "xOffset": {"field": "stim", "type": "nominal", "sort": ["Agonist alone", "+ camostat"]}, "y": {"field": "v", "type": "quantitative"}, "y2": {"field": "e"}}
            },
            {
              "transform": [{"filter": "datum.e"}],
              "mark": {"type": "tick", "thickness": 0.8, "size": 3, "color": "#000"},
              "encoding": {"x": {"field": "conc", "type": "nominal", "sort": null}, "xOffset": {"field": "stim", "type": "nominal", "sort": ["Agonist alone", "+ camostat"]}, "y": {"field": "e", "type": "quantitative"}}
            },
            {
              "transform": [{"filter": "datum.sig"}],
              "mark": {"type": "text", "fontSize": 5},
              "encoding": {"x": {"field": "conc", "type": "nominal", "sort": null}, "xOffset": {"field": "stim", "type": "nominal", "sort": ["Agonist alone", "+ camostat"]}, "y": {"datum": 64}, "text": {"field": "sig"}}
            },
            {
              "mark": {"type": "rule", "strokeWidth": 0.8},
              "encoding": {"y": {"datum": 111}}
            }
          ]
        },
        {"width": 38, "height": 155, "data": {"values": []}, "mark": "point"},
        {
          "width": 20, "height": 123,
          "title": {"text": "HaCaT", "fontSize": 6, "frame": "group", "anchor": "middle", "offset": -46},
          "resolve": {"scale": {"x": "independent"}, "axis": {"x": "independent"}},
          "layer": [
            {
              "data": {"values": [{}]},
              "mark": {"type": "rule", "strokeWidth": 0.8},
              "encoding": {"x": {"datum": 0, "type": "quantitative", "scale": {"domain": [0, 1]}, "axis": null}, "y": {"datum": 0, "type": "quantitative"}, "y2": {"datum": 108}}
            },
            {
              "data": {"name": "edata"},
              "transform": [{"filter": "datum.p == 'R' && datum.cell == 'HaCaT'"}],
              "layer": [
                {
                  "mark": {"type": "bar"},
                  "encoding": {
                    "x": {"field": "conc", "type": "nominal", "sort": null, "scale": {"paddingInner": 0.4, "paddingOuter": 0.3}, "axis": {"title": "FXa", "titleFontSize": 6, "titlePadding": 1, "labelAngle": 0, "ticks": false, "offset": 8, "labelPadding": -7, "zindex": 1}},
                    "xOffset": {"field": "stim", "type": "nominal", "sort": ["Agonist alone", "+ camostat"], "scale": {"paddingInner": 0.1}},
                    "y": {"field": "v", "type": "quantitative", "scale": {"domain": [0, 184], "nice": false}, "axis": {"values": [0, 50, 100], "tickCount": 20, "format": "d", "title": "AUC (% of agonist)", "titleFontSize": 6.5, "domain": false, "titleY": 86, "labelOverlap": false}},
                    "color": {"field": "stim", "type": "nominal", "scale": {"domain": ["Agonist alone", "+ camostat"], "range": ["#000000", "#8a8a8a"]}, "legend": null}
                  }
                },
                {
                  "transform": [{"filter": "datum.e"}],
                  "mark": {"type": "rule", "strokeWidth": 0.8},
                  "encoding": {"x": {"field": "conc", "type": "nominal", "sort": null}, "xOffset": {"field": "stim", "type": "nominal", "sort": ["Agonist alone", "+ camostat"]}, "y": {"field": "v", "type": "quantitative"}, "y2": {"field": "e"}}
                },
                {
                  "transform": [{"filter": "datum.e"}],
                  "mark": {"type": "tick", "thickness": 0.8, "size": 3, "color": "#000"},
                  "encoding": {"x": {"field": "conc", "type": "nominal", "sort": null}, "xOffset": {"field": "stim", "type": "nominal", "sort": ["Agonist alone", "+ camostat"]}, "y": {"field": "e", "type": "quantitative"}}
                },
                {
                  "transform": [{"filter": "datum.sig"}],
                  "mark": {"type": "text", "fontSize": 5},
                  "encoding": {"x": {"field": "conc", "type": "nominal", "sort": null}, "xOffset": {"field": "stim", "type": "nominal", "sort": ["Agonist alone", "+ camostat"]}, "y": {"datum": 64}, "text": {"field": "sig"}}
                },
                {
                  "mark": {"type": "rule", "strokeWidth": 0.8},
                  "encoding": {"y": {"datum": 111}}
                }
              ]
            }
          ]
        },
        {"width": 7, "height": 155, "data": {"values": []}, "mark": "point"},
        {
          "width": 57, "height": 123,
          "title": {"text": "MCF7 TF", "fontSize": 6, "frame": "group", "anchor": "middle", "offset": -46},
          "data": {"name": "edata"},
          "transform": [{"filter": "datum.p == 'R' && datum.cell == 'MCF7 TF'"}],
          "layer": [
            {
              "mark": {"type": "bar"},
              "encoding": {
                "x": {"field": "conc", "type": "nominal", "sort": null, "scale": {"paddingInner": 0.4, "paddingOuter": 0.27}, "axis": {"title": "FXa", "titleFontSize": 6, "titlePadding": 1, "labelAngle": 0, "ticks": false, "offset": 8, "labelPadding": -7, "zindex": 1}},
                "xOffset": {"field": "stim", "type": "nominal", "sort": ["Agonist alone", "+ camostat"], "scale": {"paddingInner": 0.1}},
                "y": {"field": "v", "type": "quantitative", "scale": {"domain": [0, 184], "nice": false}, "axis": null},
                "color": {"field": "stim", "type": "nominal", "scale": {"domain": ["Agonist alone", "+ camostat"], "range": ["#000000", "#8a8a8a"]}, "legend": null}
              }
            },
            {
              "transform": [{"filter": "datum.e"}],
              "mark": {"type": "rule", "strokeWidth": 0.8},
              "encoding": {"x": {"field": "conc", "type": "nominal", "sort": null}, "xOffset": {"field": "stim", "type": "nominal", "sort": ["Agonist alone", "+ camostat"]}, "y": {"field": "v", "type": "quantitative"}, "y2": {"field": "e"}}
            },
            {
              "transform": [{"filter": "datum.e"}],
              "mark": {"type": "tick", "thickness": 0.8, "size": 3, "color": "#000"},
              "encoding": {"x": {"field": "conc", "type": "nominal", "sort": null}, "xOffset": {"field": "stim", "type": "nominal", "sort": ["Agonist alone", "+ camostat"]}, "y": {"field": "e", "type": "quantitative"}}
            },
            {
              "transform": [{"filter": "datum.sig && datum.sig != '#'"}],
              "mark": {"type": "text", "fontSize": 5},
              "encoding": {"x": {"field": "conc", "type": "nominal", "sort": null}, "xOffset": {"field": "stim", "type": "nominal", "sort": ["Agonist alone", "+ camostat"]}, "y": {"datum": 64}, "text": {"field": "sig"}}
            },
            {
              "transform": [{"filter": "datum.sig == '#'"}],
              "mark": {"type": "text", "fontSize": 5, "baseline": "bottom", "dy": -8},
              "encoding": {"x": {"field": "conc", "type": "nominal", "sort": null}, "xOffset": {"field": "stim", "type": "nominal", "sort": ["Agonist alone", "+ camostat"]}, "y": {"field": "e", "type": "quantitative"}, "text": {"field": "sig"}}
            },
            {
              "mark": {"type": "rule", "strokeWidth": 0.8},
              "encoding": {"y": {"datum": 111}}
            }
          ]
        },
        {"width": 5, "height": 155, "data": {"values": []}, "mark": "point"},
        {"width": 2, "height": 155, "view": {"fill": "#a3a3a3"}, "data": {"values": []}, "mark": "point"},
        {"width": 5, "height": 155, "data": {"values": []}, "mark": "point"}
      ]
    },
    {
      "columns": 17, "bounds": "flush", "align": "none", "spacing": 0,
      "resolve": {"scale": {"color": "independent", "stroke": "independent", "fill": "independent", "xOffset": "independent", "yOffset": "independent"}},
      "concat": [
        {"width": 5, "height": 185, "data": {"values": []}, "mark": "point"},
        {"width": 2, "height": 185, "view": {"fill": "#a3a3a3"}, "data": {"values": []}, "mark": "point"},
        {"width": 33, "height": 185, "title": {"text": "F", "anchor": "start", "frame": "group", "dx": 7, "offset": -28, "fontSize": 11, "fontWeight": "bold"}, "data": {"values": []}, "mark": "point"},
        {"width": 14, "height": 185, "title": {"text": "HaCaT", "anchor": "start", "frame": "group", "dx": 8, "offset": -41, "fontSize": 7}, "data": {"values": []}, "mark": "point"},
        {
          "width": {"step": 15.6}, "height": 134,
          "data": {"name": "blot"},
          "transform": [{"filter": "datum.grp == 'none'"}],
          "encoding": {
            "x": {"field": "ln", "type": "nominal", "scale": {"paddingInner": 0, "paddingOuter": 0}, "axis": {"orient": "top", "offset": -92, "title": null, "labelAngle": -90, "labelExpr": "substring(datum.label, 3)", "domain": false, "ticks": false, "labelFontSize": 6.5, "labelPadding": 2}},
            "y": {"field": "pr", "type": "nominal", "scale": {"domain": ["~1", "~2", "~3", "~4", "pERK", "ERK"], "paddingInner": 0.12, "paddingOuter": 0.208, "align": 1}, "axis": {"title": null, "domain": false, "ticks": false, "labelFontSize": 7, "labelPadding": 4, "labelExpr": "indexof(datum.label, '~') >= 0 ? '' : datum.label"}}
          },
          "layer": [
            {"transform": [{"filter": "datum.iso == 'p42'"}], "mark": {"type": "rect", "color": "#c6c6c6"}},
            {"mark": {"type": "rect"}, "encoding": {"yOffset": {"field": "iso", "type": "nominal", "sort": ["p44", "p42"], "scale": {"paddingInner": 0.3, "paddingOuter": 1}}, "fill": {"field": "i", "type": "quantitative", "scale": {"domain": [0, 1], "range": ["#c6c6c6", "#151515"]}, "legend": null}}}
          ]
        },
        {
          "width": {"step": 15.6}, "height": 134,
          "title": {"text": "FVIIa/FX", "fontSize": 7, "frame": "group", "anchor": "middle", "offset": -57},
          "data": {"name": "blot"},
          "transform": [{"filter": "datum.grp == 'FVIIa/FX'"}],
          "encoding": {
            "x": {"field": "ln", "type": "nominal", "scale": {"paddingInner": 0, "paddingOuter": 0}, "axis": {"orient": "top", "offset": -92, "title": null, "labelAngle": -90, "labelExpr": "substring(datum.label, 3)", "domain": false, "ticks": false, "labelFontSize": 6.5, "labelPadding": 2}},
            "y": {"field": "pr", "type": "nominal", "scale": {"domain": ["~1", "~2", "~3", "~4", "pERK", "ERK"], "paddingInner": 0.12, "paddingOuter": 0.208, "align": 1}, "axis": null}
          },
          "layer": [
            {"transform": [{"filter": "datum.iso == 'p42'"}], "mark": {"type": "rect", "color": "#c6c6c6"}},
            {"mark": {"type": "rect"}, "encoding": {"yOffset": {"field": "iso", "type": "nominal", "sort": ["p44", "p42"], "scale": {"paddingInner": 0.3, "paddingOuter": 1}}, "fill": {"field": "i", "type": "quantitative", "scale": {"domain": [0, 1], "range": ["#c6c6c6", "#151515"]}, "legend": null}}},
            {"transform": [{"filter": "datum.lab == 'control' && datum.iso == 'p42' && datum.pr == 'pERK'"}], "mark": {"type": "rule", "strokeWidth": 1.2, "color": "#111"}, "encoding": {"x": {"field": "ln", "type": "nominal", "bandPosition": 0}, "y": {"datum": "~3", "bandPosition": 0}, "y2": {"datum": "ERK", "bandPosition": 1}}}
          ]
        },
        {
          "width": {"step": 15.6}, "height": 134,
          "title": {"text": "hepsin", "fontSize": 7, "frame": "group", "anchor": "middle", "offset": -57},
          "data": {"name": "blot"},
          "transform": [{"filter": "datum.grp == 'hepsin'"}],
          "encoding": {
            "x": {"field": "ln", "type": "nominal", "scale": {"paddingInner": 0, "paddingOuter": 0}, "axis": {"orient": "top", "offset": -92, "title": null, "labelAngle": -90, "labelExpr": "substring(datum.label, 3)", "domain": false, "ticks": false, "labelFontSize": 6.5, "labelPadding": 2}},
            "y": {"field": "pr", "type": "nominal", "scale": {"domain": ["~1", "~2", "~3", "~4", "pERK", "ERK"], "paddingInner": 0.12, "paddingOuter": 0.208, "align": 1}, "axis": null}
          },
          "layer": [
            {"transform": [{"filter": "datum.iso == 'p42'"}], "mark": {"type": "rect", "color": "#c6c6c6"}},
            {"mark": {"type": "rect"}, "encoding": {"yOffset": {"field": "iso", "type": "nominal", "sort": ["p44", "p42"], "scale": {"paddingInner": 0.3, "paddingOuter": 1}}, "fill": {"field": "i", "type": "quantitative", "scale": {"domain": [0, 1], "range": ["#c6c6c6", "#151515"]}, "legend": null}}},
            {"transform": [{"filter": "datum.lab == 'control' && datum.iso == 'p42' && datum.pr == 'pERK'"}], "mark": {"type": "rule", "strokeWidth": 1.2, "color": "#111"}, "encoding": {"x": {"field": "ln", "type": "nominal", "bandPosition": 0}, "y": {"datum": "~3", "bandPosition": 0}, "y2": {"datum": "ERK", "bandPosition": 1}}}
          ]
        },
        {
          "width": {"step": 15.6}, "height": 134,
          "title": {"text": "αT", "fontSize": 7, "frame": "group", "anchor": "middle", "offset": -57},
          "data": {"name": "blot"},
          "transform": [{"filter": "datum.grp == 'αT'"}],
          "encoding": {
            "x": {"field": "ln", "type": "nominal", "scale": {"paddingInner": 0, "paddingOuter": 0}, "axis": {"orient": "top", "offset": -92, "title": null, "labelAngle": -90, "labelExpr": "substring(datum.label, 3)", "domain": false, "ticks": false, "labelFontSize": 6.5, "labelPadding": 2}},
            "y": {"field": "pr", "type": "nominal", "scale": {"domain": ["~1", "~2", "~3", "~4", "pERK", "ERK"], "paddingInner": 0.12, "paddingOuter": 0.208, "align": 1}, "axis": null}
          },
          "layer": [
            {"transform": [{"filter": "datum.iso == 'p42'"}], "mark": {"type": "rect", "color": "#c6c6c6"}},
            {"mark": {"type": "rect"}, "encoding": {"yOffset": {"field": "iso", "type": "nominal", "sort": ["p44", "p42"], "scale": {"paddingInner": 0.3, "paddingOuter": 1}}, "fill": {"field": "i", "type": "quantitative", "scale": {"domain": [0, 1], "range": ["#c6c6c6", "#151515"]}, "legend": null}}},
            {"transform": [{"filter": "datum.lab == 'control' && datum.iso == 'p42' && datum.pr == 'pERK'"}], "mark": {"type": "rule", "strokeWidth": 1.2, "color": "#111"}, "encoding": {"x": {"field": "ln", "type": "nominal", "bandPosition": 0}, "y": {"datum": "~3", "bandPosition": 0}, "y2": {"datum": "ERK", "bandPosition": 1}}}
          ]
        },
        {
          "width": {"step": 15.6}, "height": 134,
          "title": {"text": "PAR2-AP", "fontSize": 7, "frame": "group", "anchor": "middle", "offset": -57},
          "data": {"name": "blot"},
          "transform": [{"filter": "datum.grp == 'PAR2-AP'"}],
          "encoding": {
            "x": {"field": "ln", "type": "nominal", "scale": {"paddingInner": 0, "paddingOuter": 0}, "axis": {"orient": "top", "offset": -92, "title": null, "labelAngle": -90, "labelExpr": "substring(datum.label, 3)", "domain": false, "ticks": false, "labelFontSize": 6.5, "labelPadding": 2}},
            "y": {"field": "pr", "type": "nominal", "scale": {"domain": ["~1", "~2", "~3", "~4", "pERK", "ERK"], "paddingInner": 0.12, "paddingOuter": 0.208, "align": 1}, "axis": null}
          },
          "layer": [
            {"transform": [{"filter": "datum.iso == 'p42'"}], "mark": {"type": "rect", "color": "#c6c6c6"}},
            {"mark": {"type": "rect"}, "encoding": {"yOffset": {"field": "iso", "type": "nominal", "sort": ["p44", "p42"], "scale": {"paddingInner": 0.3, "paddingOuter": 1}}, "fill": {"field": "i", "type": "quantitative", "scale": {"domain": [0, 1], "range": ["#c6c6c6", "#151515"]}, "legend": null}}},
            {"transform": [{"filter": "datum.lab == 'control' && datum.iso == 'p42' && datum.pr == 'pERK'"}], "mark": {"type": "rule", "strokeWidth": 1.2, "color": "#111"}, "encoding": {"x": {"field": "ln", "type": "nominal", "bandPosition": 0}, "y": {"datum": "~3", "bandPosition": 0}, "y2": {"datum": "ERK", "bandPosition": 1}}}
          ]
        },
        {
          "width": {"step": 15.6}, "height": 134,
          "title": {"text": "FVIIa", "fontSize": 7, "frame": "group", "anchor": "middle", "offset": -57},
          "data": {"name": "blot"},
          "transform": [{"filter": "datum.grp == 'FVIIa'"}],
          "encoding": {
            "x": {"field": "ln", "type": "nominal", "scale": {"paddingInner": 0, "paddingOuter": 0}, "axis": {"orient": "top", "offset": -92, "title": null, "labelAngle": -90, "labelExpr": "substring(datum.label, 3)", "domain": false, "ticks": false, "labelFontSize": 6.5, "labelPadding": 2}},
            "y": {"field": "pr", "type": "nominal", "scale": {"domain": ["~1", "~2", "~3", "~4", "pERK", "ERK"], "paddingInner": 0.12, "paddingOuter": 0.208, "align": 1}, "axis": null}
          },
          "layer": [
            {"transform": [{"filter": "datum.iso == 'p42'"}], "mark": {"type": "rect", "color": "#c6c6c6"}},
            {"mark": {"type": "rect"}, "encoding": {"yOffset": {"field": "iso", "type": "nominal", "sort": ["p44", "p42"], "scale": {"paddingInner": 0.3, "paddingOuter": 1}}, "fill": {"field": "i", "type": "quantitative", "scale": {"domain": [0, 1], "range": ["#c6c6c6", "#151515"]}, "legend": null}}},
            {"transform": [{"filter": "datum.lab == 'control' && datum.iso == 'p42' && datum.pr == 'pERK'"}], "mark": {"type": "rule", "strokeWidth": 1.2, "color": "#111"}, "encoding": {"x": {"field": "ln", "type": "nominal", "bandPosition": 0}, "y": {"datum": "~3", "bandPosition": 0}, "y2": {"datum": "ERK", "bandPosition": 1}}}
          ]
        },
        {
          "width": {"step": 15.6}, "height": 134,
          "title": {"text": "FX", "fontSize": 7, "frame": "group", "anchor": "middle", "offset": -57},
          "data": {"name": "blot"},
          "transform": [{"filter": "datum.grp == 'FX'"}],
          "encoding": {
            "x": {"field": "ln", "type": "nominal", "scale": {"paddingInner": 0, "paddingOuter": 0}, "axis": {"orient": "top", "offset": -92, "title": null, "labelAngle": -90, "labelExpr": "substring(datum.label, 3)", "domain": false, "ticks": false, "labelFontSize": 6.5, "labelPadding": 2}},
            "y": {"field": "pr", "type": "nominal", "scale": {"domain": ["~1", "~2", "~3", "~4", "pERK", "ERK"], "paddingInner": 0.12, "paddingOuter": 0.208, "align": 1}, "axis": null}
          },
          "layer": [
            {"transform": [{"filter": "datum.iso == 'p42'"}], "mark": {"type": "rect", "color": "#c6c6c6"}},
            {"mark": {"type": "rect"}, "encoding": {"yOffset": {"field": "iso", "type": "nominal", "sort": ["p44", "p42"], "scale": {"paddingInner": 0.3, "paddingOuter": 1}}, "fill": {"field": "i", "type": "quantitative", "scale": {"domain": [0, 1], "range": ["#c6c6c6", "#151515"]}, "legend": null}}},
            {"transform": [{"filter": "datum.lab == 'control' && datum.iso == 'p42' && datum.pr == 'pERK'"}], "mark": {"type": "rule", "strokeWidth": 1.2, "color": "#111"}, "encoding": {"x": {"field": "ln", "type": "nominal", "bandPosition": 0}, "y": {"datum": "~3", "bandPosition": 0}, "y2": {"datum": "ERK", "bandPosition": 1}}}
          ]
        },
        {"width": 51.8, "height": 185, "data": {"values": []}, "mark": "point"},
        {
          "width": 147, "height": 136,
          "resolve": {"scale": {"x": "independent"}, "axis": {"x": "independent"}},
          "layer": [
            {
              "data": {"values": [{}]},
              "mark": {"type": "rule", "strokeWidth": 0.8},
              "encoding": {"x": {"datum": 0, "type": "quantitative", "scale": {"domain": [0, 1]}, "axis": null}, "y": {"datum": 0.5, "type": "quantitative"}, "y2": {"datum": 2.2}}
            },
            {
              "layer": [
                {
                  "data": {"name": "fbar"},
                  "mark": {"type": "bar"},
                  "encoding": {
                    "x": {"field": "g", "type": "nominal", "scale": {"domain": ["Vehicle", "FVIIa/FX", "Camostat/FVIIa/FX", "FabE2/FVIIa/FX", "Hepsin", "FabE2/hepsin", "Thrombin", "PAR2-AP", "Camostat/PAR2-AP", "FabE2/PAR2-AP", "FVIIa", "FX"], "paddingInner": 0.4, "paddingOuter": 0.3}, "axis": {"title": null, "labelAngle": -45, "ticks": false, "labelFontSize": 5.5}},
                    "y": {"field": "v", "type": "quantitative", "scale": {"domain": [0.5, 2.9], "nice": false, "zero": false}, "axis": {"values": [0.5, 1, 1.5, 2], "tickCount": 20, "format": ".1f", "title": ["Fold change in", "phosphorylation ratio"], "domain": false, "titleY": 93, "labelOverlap": false}},
                    "y2": {"datum": 0.5},
                    "color": {"field": "g", "type": "nominal", "scale": {"domain": ["Vehicle", "FVIIa/FX", "Camostat/FVIIa/FX", "FabE2/FVIIa/FX", "Hepsin", "FabE2/hepsin", "Thrombin", "PAR2-AP", "Camostat/PAR2-AP", "FabE2/PAR2-AP", "FVIIa", "FX"], "range": ["#000000", "#808080", "#808080", "#808080", "#808080", "#808080", "#808080", "#808080", "#808080", "#808080", "#808080", "#808080"]}, "legend": null}
                  }
                },
                {
                  "data": {"name": "fbar"},
                  "transform": [{"filter": "datum.e"}],
                  "mark": {"type": "rule", "strokeWidth": 0.8},
                  "encoding": {"x": {"field": "g", "type": "nominal"}, "y": {"field": "v", "type": "quantitative"}, "y2": {"field": "e"}}
                },
                {
                  "data": {"name": "fbar"},
                  "transform": [{"filter": "datum.e"}],
                  "mark": {"type": "tick", "thickness": 0.8, "size": 5, "color": "#000"},
                  "encoding": {"x": {"field": "g", "type": "nominal"}, "y": {"field": "e", "type": "quantitative"}}
                },
                {
                  "data": {"values": [{"a": "FVIIa/FX", "b": "Camostat/FVIIa/FX", "y": 2.18}, {"a": "FVIIa/FX", "b": "FabE2/FVIIa/FX", "y": 2.03}, {"a": "Hepsin", "b": "FabE2/hepsin", "y": 2.09}]},
                  "mark": {"type": "rule", "strokeWidth": 0.8},
                  "encoding": {"x": {"field": "a", "type": "nominal"}, "x2": {"field": "b"}, "y": {"field": "y", "type": "quantitative"}}
                },
                {
                  "data": {"values": [{"m": "FVIIa/FX", "y": 2.18, "lab": "*"}, {"m": "Hepsin", "y": 2.09, "lab": "*"}]},
                  "mark": {"type": "text", "fontSize": 6, "baseline": "bottom", "dy": 1},
                  "encoding": {"x": {"field": "m", "type": "nominal", "bandPosition": 1}, "y": {"field": "y", "type": "quantitative"}, "text": {"field": "lab"}}
                },
                {
                  "data": {"values": [{"m": "Camostat/FVIIa/FX", "y": 2.03, "lab": "**"}]},
                  "mark": {"type": "text", "fontSize": 6, "baseline": "bottom", "dy": 1},
                  "encoding": {"x": {"field": "m", "type": "nominal"}, "y": {"field": "y", "type": "quantitative"}, "text": {"field": "lab"}}
                }
              ]
            }
          ]
        },
        {"width": 27, "height": 185, "data": {"values": []}, "mark": "point"},
        {"width": 2, "height": 185, "view": {"fill": "#a3a3a3"}, "data": {"values": []}, "mark": "point"},
        {"width": 5, "height": 185, "data": {"values": []}, "mark": "point"}
      ]
    },
    {
      "columns": 3, "bounds": "flush", "align": "none", "spacing": 0,
      "concat": [
        {"width": 5, "height": 2, "data": {"values": []}, "mark": "point"},
        {"width": 464, "height": 2, "view": {"fill": "#a3a3a3"}, "data": {"values": []}, "mark": "point"},
        {"width": 5, "height": 2, "data": {"values": []}, "mark": "point"}
      ]
    },
    {
      "columns": 2, "bounds": "flush", "align": "none", "spacing": 0,
      "concat": [
        {"width": 360, "height": 11, "title": {"text": "Figure 4 Matriptase mediates epithelial signaling induced by the coagulation initiation complex.", "anchor": "start", "frame": "group", "dx": 2, "offset": -8, "fontSize": 7.8, "fontWeight": "bold"}, "data": {"values": []}, "mark": "point"},
        {"width": 114, "height": 11, "title": {"text": "(A) HaCaT cells were incubated for 6 hours in the presence of anti-TF", "anchor": "start", "frame": "group", "dx": 1, "offset": -8, "fontSize": 7, "fontWeight": "normal"}, "data": {"values": []}, "mark": "point"}
      ]
    }
  ],
  "config": {
    "font": "Liberation Sans",
    "view": {"stroke": null},
    "axis": {"grid": false, "labelOverlap": false, "domainColor": "#000", "tickColor": "#000", "labelColor": "#000", "titleColor": "#000", "labelFontSize": 6, "titleFontSize": 7, "titleFontWeight": "normal", "tickSize": 2.5, "labelPadding": 1.5, "titlePadding": 3, "domainWidth": 0.8, "tickWidth": 0.8},
    "legend": {"labelFontSize": 5.5, "labelColor": "#000", "titleColor": "#000", "symbolSize": 40, "rowPadding": 1.5, "columnPadding": 6, "symbolStrokeWidth": 1.5, "padding": 0, "offset": 4, "labelOffset": 2, "labelLimit": 200},
    "title": {"fontSize": 8, "fontWeight": "normal", "color": "#000"},
    "text": {"color": "#000"},
    "rule": {"color": "#000"},
    "tick": {"color": "#000"}
  }
}
